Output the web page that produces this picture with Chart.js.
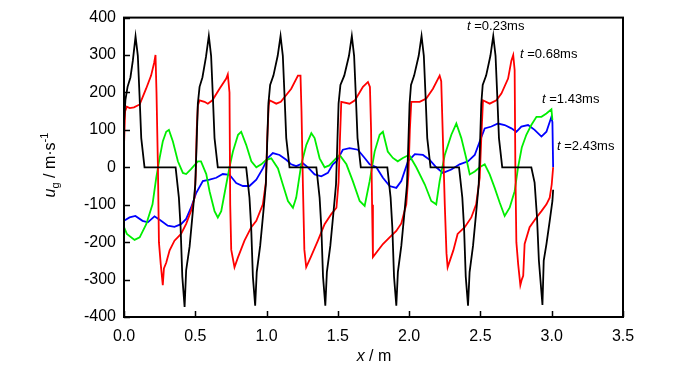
<!DOCTYPE html>
<html>
<head>
<meta charset="utf-8">
<script src="https://cdn.jsdelivr.net/npm/chart.js@4/dist/chart.umd.min.js"></script>
<style>
  html, body { margin: 0; padding: 0; background: #fff; }
  canvas { display: block; }
</style>
</head>
<body>
<canvas id="grafico" width="700" height="365"></canvas>
<script>
// Dados (x em m, u_g em m/s)
const pretoX = [0, 0.01, 0.025, 0.045, 0.062, 0.081, 0.097, 0.109, 0.121, 0.144,
  0.362, 0.385, 0.397, 0.409, 0.425, 0.436, 0.46, 0.483, 0.5, 0.509, 0.518, 0.53, 0.55, 0.575, 0.595, 0.611, 0.623, 0.635, 0.658,
  0.857, 0.88, 0.892, 0.904, 0.92, 0.931, 0.955, 0.978, 0.995, 1.004, 1.013, 1.025, 1.048, 1.078, 1.098, 1.114, 1.126, 1.138, 1.161,
  1.349, 1.372, 1.384, 1.396, 1.412, 1.423, 1.447, 1.47, 1.487, 1.496, 1.505, 1.518, 1.545, 1.578, 1.598, 1.614, 1.626, 1.638, 1.661,
  1.847, 1.87, 1.882, 1.894, 1.91, 1.921, 1.945, 1.968, 1.985, 1.994, 2.003, 2.013, 2.035, 2.067, 2.087, 2.103, 2.115, 2.127, 2.15,
  2.35, 2.373, 2.385, 2.397, 2.413, 2.424, 2.448, 2.471, 2.488, 2.497, 2.506, 2.516, 2.54, 2.57, 2.59, 2.606, 2.618, 2.63, 2.653,
  2.857, 2.88, 2.897, 2.91, 2.935, 2.944, 2.963, 2.986, 3.005, 3.01];
const pretoY = [120, 180, 215, 240, 285, 350, 298, 192, 78, 0,
  0, -81, -160, -292, -373, -275, -212, -117, -46, 60, 170, 215, 240, 295, 351, 298, 192, 78, 0,
  0, -81, -160, -292, -370, -280, -210, -117, -46, 60, 170, 220, 245, 298, 351, 298, 192, 78, 0,
  0, -81, -160, -292, -370, -280, -210, -117, -46, 60, 170, 220, 245, 298, 351, 298, 192, 78, 0,
  0, -81, -160, -292, -370, -280, -210, -117, -46, 60, 170, 220, 245, 298, 351, 298, 192, 78, 0,
  0, -81, -160, -292, -370, -280, -210, -117, -46, 60, 170, 220, 245, 298, 351, 298, 192, 78, 0,
  0, -41, -134, -249, -368, -249, -205, -143, -90, -60];

const vermelhoX = [0, 0.008, 0.02, 0.04, 0.07, 0.11, 0.155, 0.19, 0.212, 0.221, 0.228, 0.238, 0.245, 0.258, 0.272, 0.28, 0.296, 0.32, 0.354, 0.4, 0.436, 0.47, 0.495, 0.503, 0.51, 0.518, 0.53, 0.565, 0.588, 0.62, 0.67, 0.717, 0.728,
  0.74, 0.745, 0.752, 0.775, 0.8, 0.845, 0.893, 0.928, 0.974, 0.995, 1.005, 1.015, 1.021, 1.068, 1.1, 1.173, 1.22, 1.238,
  1.245, 1.255, 1.265, 1.278, 1.31, 1.36, 1.407, 1.454, 1.49, 1.505, 1.515, 1.524, 1.582, 1.62, 1.676, 1.711, 1.725,
  1.733, 1.74, 1.746, 1.816, 1.863, 1.91, 1.945, 1.98, 1.995, 2.005, 2.015, 2.074, 2.12, 2.167, 2.214, 2.225,
  2.235, 2.25, 2.262, 2.27, 2.31, 2.34, 2.39, 2.436, 2.47, 2.495, 2.506, 2.518, 2.565, 2.612, 2.647, 2.694, 2.717, 2.73,
  2.74, 2.745, 2.752, 2.765, 2.78, 2.79, 2.8, 2.81, 2.845, 2.893, 2.928, 2.963, 2.986, 3.0, 3.01];
const vermelhoY = [60, 150, 162, 158, 160, 168, 210, 245, 280, 300, 200, 0, -200, -260, -315, -270, -255, -222, -196, -178, -151, -117, -81, -20, 100, 165, 179, 175, 170, 179, 210, 237, 248,
  200, -100, -220, -267, -240, -196, -160, -143, -99, -40, 80, 165, 179, 170, 175, 210, 245, 245,
  150, -50, -220, -267, -240, -196, -152, -125, -108, -40, 80, 175, 170, 179, 215, 228, 215,
  100, -100, -240, -205, -187, -170, -150, -99, -20, 100, 175, 175, 184, 210, 245, 230,
  100, -100, -230, -267, -222, -178, -160, -134, -99, -28, 78, 179, 170, 179, 197, 237, 285, 300,
  260, 0, -200, -260, -315, -300, -290, -205, -160, -134, -117, -99, -81, -46, 0];

const verdeX = [0, 0.02, 0.074, 0.11, 0.156, 0.2, 0.226, 0.25, 0.272, 0.296, 0.315, 0.343, 0.378, 0.413, 0.436, 0.47, 0.518, 0.54, 0.577, 0.6, 0.635, 0.658, 0.682, 0.717, 0.74, 0.764, 0.8, 0.822, 0.857, 0.893, 0.928, 0.963, 0.998,
  1.033, 1.08, 1.114, 1.15, 1.185, 1.208, 1.243, 1.279, 1.314, 1.337, 1.372, 1.407, 1.44, 1.477, 1.512, 1.56, 1.605, 1.653, 1.688, 1.723, 1.758, 1.793, 1.816, 1.85, 1.886, 1.92, 1.956,
  2.0, 2.05, 2.11, 2.155, 2.19, 2.214, 2.25, 2.296, 2.331, 2.366, 2.4, 2.425, 2.46, 2.495, 2.53, 2.565, 2.6, 2.635, 2.67, 2.705, 2.74, 2.764, 2.79, 2.822, 2.857, 2.893, 2.928, 2.963, 2.998, 3.005];
const verdeY = [-160, -178, -194, -187, -152, -99, -28, 25, 69, 95, 100, 69, 16, -15, -18, -5, 16, 16, -18, -64, -117, -134, -117, -46, 0, 42, 87, 95, 60, 16, 0, 8, 20,
  24, -3, -46, -90, -108, -81, 7, 60, 91, 78, 24, 0, 5, 20, 33, 8, -37, -90, -103, -37, 42, 87, 95, 42, 25, 16, 25,
  33, 0, -46, -90, -99, -37, 33, 87, 117, 78, 25, -19, -11, 0, 8, -19, -55, -94, -130, -108, -64, 0, 53, 87, 113, 135, 135, 144, 155, 126];

const azulX = [0, 0.039, 0.08, 0.13, 0.167, 0.214, 0.26, 0.307, 0.354, 0.4, 0.436, 0.47, 0.507, 0.553, 0.6, 0.647, 0.693, 0.74, 0.787, 0.834, 0.88, 0.928, 0.974,
  1.009, 1.044, 1.091, 1.138, 1.173, 1.208, 1.255, 1.29, 1.337, 1.384, 1.43, 1.465, 1.49, 1.535, 1.582, 1.64, 1.688, 1.723, 1.77, 1.816, 1.863, 1.91, 1.945, 1.992,
  2.04, 2.097, 2.144, 2.19, 2.237, 2.296, 2.354, 2.413, 2.46, 2.495, 2.53, 2.577, 2.623, 2.67, 2.717, 2.752, 2.787, 2.834, 2.88, 2.928, 2.963, 2.998, 3.005, 3.01];
const azulY = [-143, -134, -130, -143, -147, -131, -143, -156, -159, -152, -138, -108, -68, -37, -33, -28, -18, -20, -42, -50, -50, -33, -3,
  25, 38, 33, 20, 8, 3, 11, 0, -19, -24, -15, 8, 16, 47, 51, 47, 25, 8, 0, -28, -50, -55, -37, 16,
  35, 33, 20, 0, -15, -6, 8, 16, 33, 69, 104, 109, 117, 113, 104, 95, 109, 113, 100, 82, 95, 135, 120, 0];

const rotulos = ["0.23", "0.68", "1.43", "2.43"];
const ticksX = [0, 0.5, 1, 1.5, 2, 2.5, 3, 3.5];
const ticksY = [-400, -300, -200, -100, 0, 100, 200, 300, 400];

const fonte = "'Liberation Sans', Arial, sans-serif";

function pontos(xs, ys) {
  return xs.map((x, i) => ({ x: x, y: ys[i] }));
}

function serie(xs, ys, cor) {
  return {
    data: pontos(xs, ys),
    borderColor: cor,
    borderWidth: 1.8,
    pointRadius: 0,
    showLine: true,
    tension: 0,
    fill: false,
  };
}

// Moldura, ticks para dentro, títulos dos eixos e rótulos t = ...
const extras = {
  id: "extras",
  afterDatasetsDraw(chart) {
    const ctx = chart.ctx;
    const a = chart.chartArea;
    const sx = chart.scales.x;
    const sy = chart.scales.y;
    ctx.save();
    ctx.strokeStyle = "#000";
    ctx.lineWidth = 2;
    ctx.strokeRect(a.left, a.top, a.right - a.left, a.bottom - a.top);
    ctx.lineWidth = 1.5;
    ctx.beginPath();
    ticksX.forEach((v) => {
      const px = Math.round(sx.getPixelForValue(v)) + 0.5;
      ctx.moveTo(px, a.bottom);
      ctx.lineTo(px, a.bottom - 6);
    });
    ticksY.forEach((v) => {
      const py = Math.round(sy.getPixelForValue(v)) + 0.5;
      ctx.moveTo(a.left, py);
      ctx.lineTo(a.left + 6, py);
    });
    ctx.stroke();

    ctx.fillStyle = "#000";
    ctx.textBaseline = "alphabetic";

    // título eixo x
    ctx.font = "italic 16px " + fonte;
    const wx = ctx.measureText("x").width;
    ctx.font = "16px " + fonte;
    const wr = ctx.measureText(" / m").width;
    let x0 = 374 - (wx + wr) / 2;
    ctx.font = "italic 16px " + fonte;
    ctx.fillText("x", x0, 361);
    ctx.font = "16px " + fonte;
    ctx.fillText(" / m", x0 + wx, 361);

    // título eixo y
    ctx.save();
    ctx.translate(55, 165);
    ctx.rotate(-Math.PI / 2);
    ctx.font = "italic 16px " + fonte;
    const wu = ctx.measureText("u").width;
    ctx.font = "11px " + fonte;
    const wg = ctx.measureText("g").width;
    ctx.font = "16px " + fonte;
    const wm = ctx.measureText(" / m\u00b7s").width;
    ctx.font = "11px " + fonte;
    const we = ctx.measureText("-1").width;
    let t0 = -(wu + wg + wm + we) / 2;
    ctx.font = "italic 16px " + fonte;
    ctx.fillText("u", t0, 0);
    ctx.font = "11px " + fonte;
    ctx.fillText("g", t0 + wu, 4);
    ctx.font = "16px " + fonte;
    ctx.fillText(" / m\u00b7s", t0 + wu + wg, 0);
    ctx.font = "11px " + fonte;
    ctx.fillText("-1", t0 + wu + wg + wm, -7);
    ctx.restore();

    // rótulos das curvas
    const pos = [[467, 30], [520, 58], [542, 103], [557, 150]];
    rotulos.forEach((r, i) => {
      const [lx, ly] = pos[i];
      ctx.font = "italic 13px " + fonte;
      ctx.fillText("t", lx, ly);
      const wt = ctx.measureText("t ").width;
      ctx.font = "13px " + fonte;
      ctx.fillText("=" + r + "ms", lx + wt, ly);
    });
    ctx.restore();
  },
};

const ctx = document.querySelector("#grafico").getContext("2d");
const chart = new Chart(ctx, {
  type: "scatter",
  data: {
    datasets: [
      serie(pretoX, pretoY, "#000000"),
      serie(vermelhoX, vermelhoY, "#ff0000"),
      serie(verdeX, verdeY, "#00ee00"),
      serie(azulX, azulY, "#0000ff"),
    ],
  },
  options: {
    responsive: false,
    animation: false,
    devicePixelRatio: 1,
    layout: { padding: { left: 0, top: 15, right: 77, bottom: 0 } },
    plugins: { legend: { display: false }, tooltip: { enabled: false } },
    scales: {
      x: {
        type: "linear",
        min: 0,
        max: 3.5,
        grid: { display: false, drawTicks: false },
        border: { display: false },
        ticks: {
          stepSize: 0.5,
          color: "#000",
          padding: 10,
          font: { family: fonte, size: 16 },
          callback: (v) => Number(v).toFixed(1),
        },
        afterFit: (s) => { s.height = 48; },
      },
      y: {
        min: -400,
        max: 400,
        grid: { display: false, drawTicks: false },
        border: { display: false },
        ticks: {
          stepSize: 100,
          color: "#000",
          padding: 8,
          font: { family: fonte, size: 16 },
        },
        afterFit: (s) => { s.width = 124; },
      },
    },
  },
  plugins: [extras],
});
</script>
</body>
</html>
